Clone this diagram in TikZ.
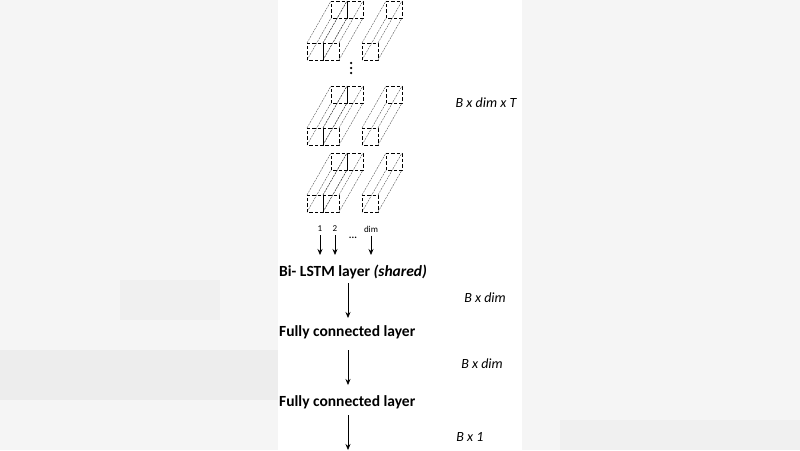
\documentclass[tikz,border=0pt]{standalone}
\usepackage{fontspec}
\setmainfont{Carlito}
\usetikzlibrary{arrows.meta}
\begin{document}
\begin{tikzpicture}[x=1pt,y=-1pt,
  sq/.style={draw,line width=1pt,dash pattern=on 3.5pt off 2pt},
  edge/.style={draw,gray!50!black,line width=0.35pt,dash pattern=on 2pt off 1pt},
  arr/.style={-{Stealth[length=6pt,width=5pt]},line width=0.7pt},
  lay/.style={font=\fontsize{15.5}{17}\selectfont\bfseries,anchor=west,inner sep=0},
  dimlab/.style={font=\fontsize{14}{16}\selectfont\itshape,inner sep=0},
  dotc/.style={fill=black,circle,inner sep=0,minimum size=2.5pt}]
\useasboundingbox (0,0) rectangle (800,450);
\fill[gray!8] (0,0) rectangle (278,450);
\fill[gray!8] (522,0) rectangle (800,450);
\fill[gray!14] (0,350) rectangle (278,400);
\fill[gray!12] (560,420) rectangle (800,450);
\fill[gray!12] (120,280) rectangle (220,320);
\newcommand{\mybar}[2]{%
  \draw[edge] (#1,#2) -- ++(24,-42);
  \draw[edge] (#1+16,#2) -- ++(24,-42);
  \draw[edge] (#1,#2-17) -- ++(24,-42);
  \draw[edge] (#1+16,#2-17) -- ++(24,-42);
  \draw[sq] (#1+24,#2-42) rectangle ++(16,-17);
  \draw[sq] (#1,#2) rectangle ++(16,-17);}
\foreach \yy in {60,145,212}{
  \mybar{307}{\yy}\mybar{323}{\yy}\mybar{362}{\yy}}
\node[dotc] (v1) at (351,63) {};
\node[dotc] (v2) at (351,68) {};
\node[dotc] (v3) at (351,73) {};
\node[font=\fontsize{9}{10}\selectfont] (l1) at (320,229) {1};
\node[font=\fontsize{9}{10}\selectfont] (l2) at (335,229) {2};
\node[font=\fontsize{9}{10}\selectfont] (ld) at (371,229) {dim};
\node[font=\fontsize{10}{10}\selectfont\bfseries] (hd) at (353,238) {...};
\coordinate (a1) at (320,255); \coordinate (a2) at (335,255); \coordinate (a3) at (371,255);
\draw[arr] (l1.south) -- (a1);
\draw[arr] (l2.south) -- (a2);
\draw[arr] (ld.south) -- (a3);
\node[lay] (bi) at (279,272) {Bi- LSTM layer \textit{(shared)}};
\node[lay] (fc1) at (279,332) {Fully connected layer};
\node[lay] (fc2) at (279,402) {Fully connected layer};
\coordinate (end) at (348,450);
\draw[arr] (348,283) -- (348,318);
\draw[arr] (348,350) -- (348,385);
\draw[arr] (348,415) -- (end);
\node[dimlab] (d0) at (486,103) {B x dim x T};
\node[dimlab] (d1) at (485,298) {B x dim};
\node[dimlab] (d2) at (482,364) {B x dim};
\node[dimlab] (d3) at (470,437) {B x 1};
\end{tikzpicture}
\end{document}
